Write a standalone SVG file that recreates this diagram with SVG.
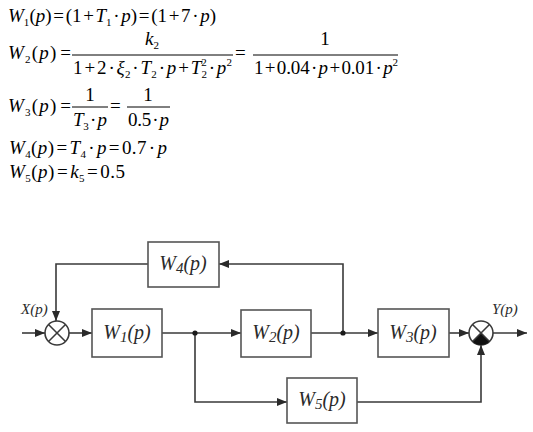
<svg xmlns="http://www.w3.org/2000/svg" width="533" height="432" viewBox="0 0 533 432">
<style>
.eq{font-family:"Liberation Serif","Times New Roman",serif;font-size:19px;fill:#000}
.i{font-style:italic}
.sb{font-size:11px}
.bar{stroke:#000;stroke-width:1}
.box{fill:#fff;stroke:#555;stroke-width:1.6}
.lbl{font-family:"Liberation Serif","Times New Roman",serif;font-style:italic;font-size:20px;fill:#2a2a2a}
.lsb{font-size:15px}
.io{font-family:"Liberation Serif","Times New Roman",serif;font-style:italic;font-size:15px;fill:#2a2a2a}
.ln{fill:none;stroke:#3a3a3a;stroke-width:1.6}
</style>
<defs>
<marker id="ar" viewBox="0 0 10 8" refX="10" refY="4" markerWidth="10" markerHeight="8" markerUnits="userSpaceOnUse" orient="auto">
<path d="M0,0 L10,4 L0,8 Z" fill="#2a2a2a"/>
</marker>
</defs>
<rect width="533" height="432" fill="#fff"/>
<g id="equations">
<text class="eq" x="8" y="22" textLength="208" lengthAdjust="spacing"><tspan class="i">W</tspan><tspan class="sb" dy="4">1</tspan><tspan dy="-4">(</tspan><tspan class="i">p</tspan>)&#x200A;=&#x200A;(1&#x200A;+&#x200A;<tspan class="i">T</tspan><tspan class="sb" dy="4">1</tspan><tspan dy="-4">&#x200A;·&#x200A;</tspan><tspan class="i">p</tspan>)&#x200A;=&#x200A;(1&#x200A;+&#x200A;7&#x200A;·&#x200A;<tspan class="i">p</tspan>)</text>

<text class="eq" x="8" y="59" textLength="63" lengthAdjust="spacing"><tspan class="i">W</tspan><tspan class="sb" dy="4">2</tspan><tspan dy="-4">(</tspan><tspan class="i">p</tspan>)&#x200A;=</text>
<line class="bar" x1="72" y1="55" x2="233" y2="55"/>
<text class="eq" x="152" y="45" text-anchor="middle"><tspan class="i">k</tspan><tspan class="sb" dy="4">2</tspan></text>
<text class="eq" x="73" y="74" textLength="159" lengthAdjust="spacing">1&#x200A;+&#x200A;2&#x200A;·&#x200A;<tspan class="i">ξ</tspan><tspan class="sb" dy="4">2</tspan><tspan dy="-4">&#x200A;·&#x200A;</tspan><tspan class="i">T</tspan><tspan class="sb" dy="4">2</tspan><tspan dy="-4">&#x200A;·&#x200A;</tspan><tspan class="i">p</tspan>&#x200A;+&#x200A;<tspan class="i">T</tspan><tspan class="sb" dy="4">2</tspan><tspan class="sb" dx="-6" dy="-12">2</tspan><tspan dy="8">&#x200A;·&#x200A;</tspan><tspan class="i">p</tspan><tspan class="sb" dy="-8">2</tspan></text>
<text class="eq" x="235" y="59">=</text>
<line class="bar" x1="253" y1="55" x2="398" y2="55"/>
<text class="eq" x="325" y="45" text-anchor="middle">1</text>
<text class="eq" x="254" y="74" textLength="144" lengthAdjust="spacing">1&#x200A;+&#x200A;0.04&#x200A;·&#x200A;<tspan class="i">p</tspan>&#x200A;+&#x200A;0.01&#x200A;·&#x200A;<tspan class="i">p</tspan><tspan class="sb" dy="-8">2</tspan></text>

<text class="eq" x="8" y="112" textLength="63" lengthAdjust="spacing"><tspan class="i">W</tspan><tspan class="sb" dy="4">3</tspan><tspan dy="-4">(</tspan><tspan class="i">p</tspan>)&#x200A;=</text>
<line class="bar" x1="72" y1="107" x2="108" y2="107"/>
<text class="eq" x="90" y="101" text-anchor="middle">1</text>
<text class="eq" x="73" y="126" textLength="34" lengthAdjust="spacing"><tspan class="i">T</tspan><tspan class="sb" dy="4">3</tspan><tspan dy="-4">&#x200A;·&#x200A;</tspan><tspan class="i">p</tspan></text>
<text class="eq" x="110" y="112">=</text>
<line class="bar" x1="127" y1="107" x2="170" y2="107"/>
<text class="eq" x="148" y="101" text-anchor="middle">1</text>
<text class="eq" x="128" y="126" textLength="41" lengthAdjust="spacing">0.5&#x200A;·&#x200A;<tspan class="i">p</tspan></text>

<text class="eq" x="9" y="154" textLength="158" lengthAdjust="spacing"><tspan class="i">W</tspan><tspan class="sb" dy="4">4</tspan><tspan dy="-4">(</tspan><tspan class="i">p</tspan>)&#x200A;=&#x200A;<tspan class="i">T</tspan><tspan class="sb" dy="4">4</tspan><tspan dy="-4">&#x200A;·&#x200A;</tspan><tspan class="i">p</tspan>&#x200A;=&#x200A;0.7&#x200A;·&#x200A;<tspan class="i">p</tspan></text>
<text class="eq" x="9" y="178" textLength="116" lengthAdjust="spacing"><tspan class="i">W</tspan><tspan class="sb" dy="4">5</tspan><tspan dy="-4">(</tspan><tspan class="i">p</tspan>)&#x200A;=&#x200A;<tspan class="i">k</tspan><tspan class="sb" dy="4">5</tspan><tspan dy="-4">&#x200A;=&#x200A;0.5</tspan></text>
</g>

<g id="connectors">
<line class="ln" x1="22" y1="333" x2="45" y2="333" marker-end="url(#ar)"/>
<line class="ln" x1="69" y1="333" x2="92" y2="333" marker-end="url(#ar)"/>
<line class="ln" x1="162" y1="333" x2="241" y2="333" marker-end="url(#ar)"/>
<line class="ln" x1="311" y1="333" x2="378" y2="333" marker-end="url(#ar)"/>
<line class="ln" x1="449" y1="333" x2="469" y2="333" marker-end="url(#ar)"/>
<line class="ln" x1="493" y1="333" x2="527" y2="333" marker-end="url(#ar)"/>
<polyline class="ln" points="343,333 343,264 219,264" marker-end="url(#ar)"/>
<polyline class="ln" points="148,264 56,264 56,321" marker-end="url(#ar)"/>
<polyline class="ln" points="195,333 195,402 287,402" marker-end="url(#ar)"/>
<polyline class="ln" points="357,402 481,402 481,345" marker-end="url(#ar)"/>
<circle cx="195" cy="333" r="2.6" fill="#1a1a1a"/>
<circle cx="343" cy="333" r="2.6" fill="#1a1a1a"/>
</g>

<g id="sum1">
<circle cx="57" cy="333" r="12" fill="#fff" stroke="#3a3a3a" stroke-width="1.6"/>
<line class="ln" x1="48.5" y1="324.5" x2="65.5" y2="341.5"/>
<line class="ln" x1="65.5" y1="324.5" x2="48.5" y2="341.5"/>
</g>
<g id="sum2">
<circle cx="481" cy="333" r="12" fill="#fff" stroke="#3a3a3a" stroke-width="1.6"/>
<path d="M481,333 L489.5,341.5 A12,12 0 0 1 472.5,341.5 Z" fill="#111"/>
<line class="ln" x1="472.5" y1="324.5" x2="489.5" y2="341.5"/>
<line class="ln" x1="489.5" y1="324.5" x2="472.5" y2="341.5"/>
</g>

<g id="W1"><rect class="box" x="92" y="309" width="70" height="48"/><text class="lbl" x="127" y="339" text-anchor="middle">W<tspan class="lsb" dy="3">1</tspan><tspan dy="-3">(p)</tspan></text></g>
<g id="W2"><rect class="box" x="241" y="310" width="70" height="47"/><text class="lbl" x="276" y="339" text-anchor="middle">W<tspan class="lsb" dy="3">2</tspan><tspan dy="-3">(p)</tspan></text></g>
<g id="W3"><rect class="box" x="378" y="309" width="71" height="48"/><text class="lbl" x="413" y="339" text-anchor="middle">W<tspan class="lsb" dy="3">3</tspan><tspan dy="-3">(p)</tspan></text></g>
<g id="W4"><rect class="box" x="148" y="242" width="71" height="45"/><text class="lbl" x="183" y="270" text-anchor="middle">W<tspan class="lsb" dy="3">4</tspan><tspan dy="-3">(p)</tspan></text></g>
<g id="W5"><rect class="box" x="287" y="378" width="70" height="45"/><text class="lbl" x="322" y="406" text-anchor="middle">W<tspan class="lsb" dy="3">5</tspan><tspan dy="-3">(p)</tspan></text></g>

<g id="labels">
<text class="io" x="21" y="314">X(p)</text>
<text class="io" x="492" y="314">Y(p)</text>
</g>
</svg>
